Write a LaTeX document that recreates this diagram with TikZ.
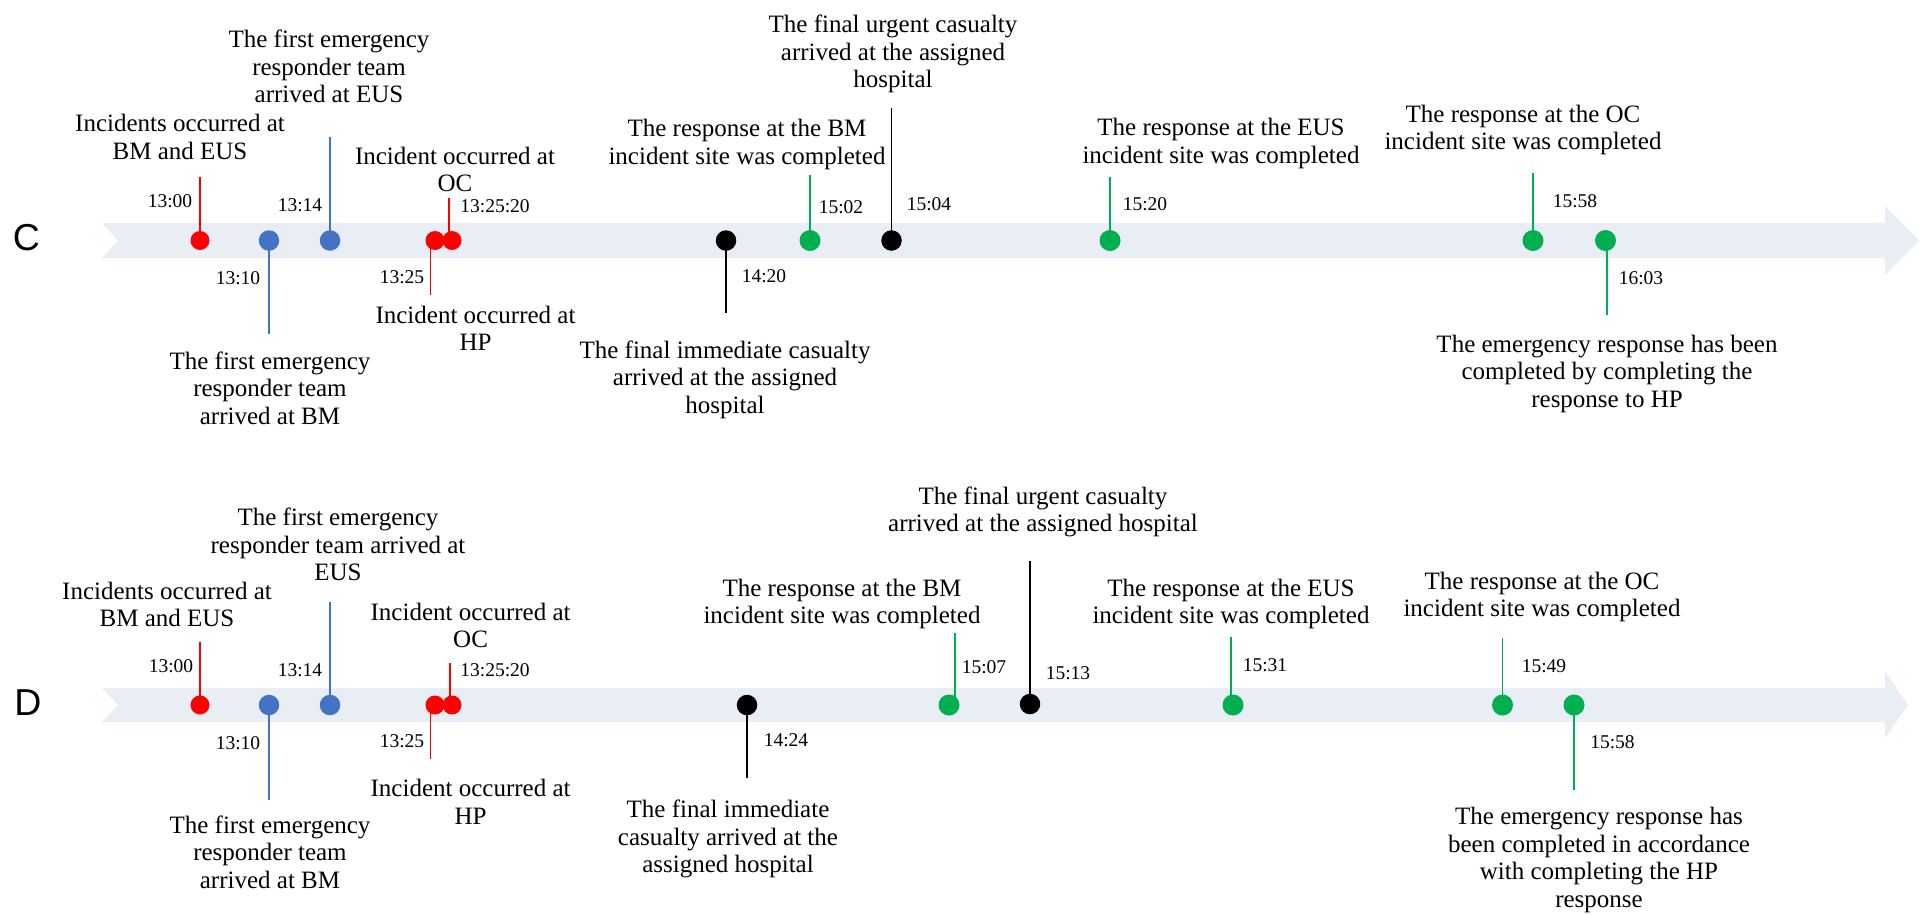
\documentclass[tikz,border=0pt]{standalone}
\usepackage{fontspec}
\setmainfont{Liberation Serif}
\newfontfamily\panelsans{Liberation Sans}
\usetikzlibrary{backgrounds}
\definecolor{bandfill}{HTML}{E9EEF5}
\definecolor{evred}{HTML}{FF0000}
\definecolor{evblue}{HTML}{4472C4}
\definecolor{evgreen}{HTML}{00B050}
\definecolor{evblack}{HTML}{000000}
\newcommand\lblsize{\fontsize{25}{27.5}\selectfont}
\newcommand\timesize{\fontsize{19.5}{22}\selectfont}
\begin{document}
\begin{tikzpicture}[x=1pt,y=-1pt,
  band/.style={fill=bandfill, draw=none},
  dotR/.style={circle, inner sep=0pt, minimum size=19pt, fill=evred},
  dotB/.style={circle, inner sep=0pt, minimum size=20.5pt, fill=evblue},
  dotG/.style={circle, inner sep=0pt, minimum size=21pt, fill=evgreen},
  dotK/.style={circle, inner sep=0pt, minimum size=20.5pt, fill=evblack},
  stem/.style={line width=1.4pt, draw=#1},
  tm/.style={font=\timesize, inner sep=0pt},
  lbl/.style={font=\lblsize, align=center, inner sep=0pt},
  panel/.style={font=\panelsans\fontsize{37.5}{40}\selectfont, inner sep=0pt}]
\useasboundingbox (0,0) rectangle (1926,914);

% ---------------- timeline C ----------------
\node[panel] (pc) at (26.5,238) {C};
\node[dotR] (c1) at (200,240.5) {};
\node[dotB] (c2) at (269,240.5) {};
\node[dotB] (c3) at (330,240.5) {};
\node[dotR] (c4) at (435,240.5) {};
\node[dotR] (c5) at (452,240.5) {};
\node[dotK] (c6) at (726,240.5) {};
\node[dotG] (c7) at (810,240.5) {};
\node[dotK] (c8) at (891.5,240.5) {};
\node[dotG] (c9) at (1110,240.5) {};
\node[dotG] (c10) at (1533,240.5) {};
\node[dotG] (c11) at (1605.5,240.5) {};

\coordinate (c1e) at (200,177);
\coordinate (c2e) at (269,334);
\coordinate (c3e) at (330,137);
\coordinate (c4e) at (430.6,295);
\coordinate (c5e) at (449,198);
\coordinate (c6e) at (726,313);
\coordinate (c7e) at (810,175);
\coordinate (c8e) at (891.5,108);
\coordinate (c9e) at (1110,177);
\coordinate (c10e) at (1533,173);
\coordinate (c11e) at (1607,315);

\begin{pgfonlayer}{background}
  \fill[band] (102,223) -- (1885,223) -- (1885,206) -- (1919.5,240.5)
    -- (1885,275) -- (1885,258) -- (102,258) -- (118,240.5) -- cycle;
  \draw[stem=evred] (c1e) -- (c1e |- c1);
  \draw[stem=evblue] (c2e) -- (c2e |- c2);
  \draw[stem=evblue] (c3e) -- (c3e |- c3);
  \draw[stem=evred] (c4e) -- (c4e |- c4);
  \draw[stem=evred] (c5e) -- (c5e |- c5);
  \draw[stem=evblack] (c6e) -- (c6e |- c6);
  \draw[stem=evgreen] (c7e) -- (c7e |- c7);
  \draw[stem=evblack] (c8e) -- (c8e |- c8);
  \draw[stem=evgreen] (c9e) -- (c9e |- c9);
  \draw[stem=evgreen] (c10e) -- (c10e |- c10);
  \draw[stem=evgreen] (c11e) -- (c11e |- c11);
\end{pgfonlayer}

\node[tm] (c1t) at (170,201) {13:00};
\node[tm] (c2t) at (238,278) {13:10};
\node[tm] (c3t) at (300,205) {13:14};
\node[tm] (c4t) at (402,277) {13:25};
\node[tm] (c5t) at (495,206) {13:25:20};
\node[tm] (c6t) at (764,276) {14:20};
\node[tm] (c7t) at (841,207) {15:02};
\node[tm] (c8t) at (929,204) {15:04};
\node[tm] (c9t) at (1145,204) {15:20};
\node[tm] (c10t) at (1575,201) {15:58};
\node[tm] (c11t) at (1641,278) {16:03};

\node[lbl] (c1l) at (180,137) {Incidents occurred at\\BM and EUS};
\node[lbl] (c2l) at (270,388) {The first emergency\\responder team\\arrived at BM};
\node[lbl] (c3l) at (329,66.5) {The first emergency\\responder team\\arrived at EUS};
\node[lbl] (c4l) at (475.5,328.5) {Incident occurred at\\HP};
\node[lbl] (c5l) at (455,169.5) {Incident occurred at\\OC};
\node[lbl] (c6l) at (725,379.5) {The final immediate casualty\\arrived at the assigned\\hospital};
\node[lbl] (c7l) at (747,144.5) {The response at the BM\\incident site was completed};
\node[lbl] (c8l) at (893,54) {The final urgent casualty\\arrived at the assigned\\hospital};
\node[lbl] (c9l) at (1221,143.5) {The response at the EUS\\incident site was completed};
\node[lbl] (c10l) at (1523,130) {The response at the OC\\incident site was completed};
\node[lbl] (c11l) at (1607,373.5) {The emergency response has been\\completed by completing the\\response to HP};

% ---------------- timeline D ----------------
\node[panel] (pd) at (28,703) {D};
\node[dotR] (d1) at (200,705) {};
\node[dotB] (d2) at (269,705) {};
\node[dotB] (d3) at (330,705) {};
\node[dotR] (d4) at (435,705) {};
\node[dotR] (d5) at (452,705) {};
\node[dotK] (d6) at (747,705) {};
\node[dotG] (d7) at (949,705) {};
\node[dotK] (d8) at (1030,704) {};
\node[dotG] (d9) at (1233,705) {};
\node[dotG] (d10) at (1502.5,705) {};
\node[dotG] (d11) at (1574,705) {};

\coordinate (d1e) at (200,642);
\coordinate (d2e) at (269,800);
\coordinate (d3e) at (330,602);
\coordinate (d4e) at (430.6,759);
\coordinate (d5e) at (450,663);
\coordinate (d6e) at (747,778);
\coordinate (d7e) at (955,633);
\coordinate (d8e) at (1030,561);
\coordinate (d9e) at (1231,637);
\coordinate (d10e) at (1502.5,638);
\coordinate (d11e) at (1574,790);

\begin{pgfonlayer}{background}
  \fill[band] (102,688) -- (1885,688) -- (1885,671) -- (1908,705)
    -- (1885,738) -- (1885,722) -- (102,722) -- (118,705) -- cycle;
  \draw[stem=evred] (d1e) -- (d1e |- d1);
  \draw[stem=evblue] (d2e) -- (d2e |- d2);
  \draw[stem=evblue] (d3e) -- (d3e |- d3);
  \draw[stem=evred] (d4e) -- (d4e |- d4);
  \draw[stem=evred] (d5e) -- (d5e |- d5);
  \draw[stem=evblack] (d6e) -- (d6e |- d6);
  \draw[stem=evgreen] (d7e) -- (d7e |- d7);
  \draw[stem=evblack] (d8e) -- (d8e |- d8);
  \draw[stem=evgreen] (d9e) -- (d9e |- d9);
  \draw[stem=evgreen] (d10e) -- (d10e |- d10);
  \draw[stem=evgreen] (d11e) -- (d11e |- d11);
\end{pgfonlayer}

\node[tm] (d1t) at (171,666) {13:00};
\node[tm] (d2t) at (238,743) {13:10};
\node[tm] (d3t) at (300,670) {13:14};
\node[tm] (d4t) at (402,741) {13:25};
\node[tm] (d5t) at (495,670) {13:25:20};
\node[tm] (d6t) at (786,740) {14:24};
\node[tm] (d7t) at (984,667) {15:07};
\node[tm] (d8t) at (1068,673) {15:13};
\node[tm] (d9t) at (1265,665) {15:31};
\node[tm] (d10t) at (1544,666) {15:49};
\node[tm] (d11t) at (1612.5,742) {15:58};

\node[lbl] (d1l) at (167,604.5) {Incidents occurred at\\BM and EUS};
\node[lbl] (d2l) at (270,852) {The first emergency\\responder team\\arrived at BM};
\node[lbl] (d3l) at (338,544.5) {The first emergency\\responder team arrived at\\EUS};
\node[lbl] (d4l) at (470.6,802) {Incident occurred at\\HP};
\node[lbl] (d5l) at (470.6,625.5) {Incident occurred at\\OC};
\node[lbl] (d6l) at (728,839) {The final immediate\\casualty arrived at the\\assigned hospital};
\node[lbl] (d7l) at (842,604) {The response at the BM\\incident site was completed};
\node[lbl] (d8l) at (1043,512) {The final urgent casualty\\arrived at the assigned hospital};
\node[lbl] (d9l) at (1231,604) {The response at the EUS\\incident site was completed};
\node[lbl] (d10l) at (1542,597) {The response at the OC\\incident site was completed};
\node[lbl] (d11l) at (1599,860) {The emergency response has\\been completed in accordance\\with completing the HP\\response};
\end{tikzpicture}
\end{document}
